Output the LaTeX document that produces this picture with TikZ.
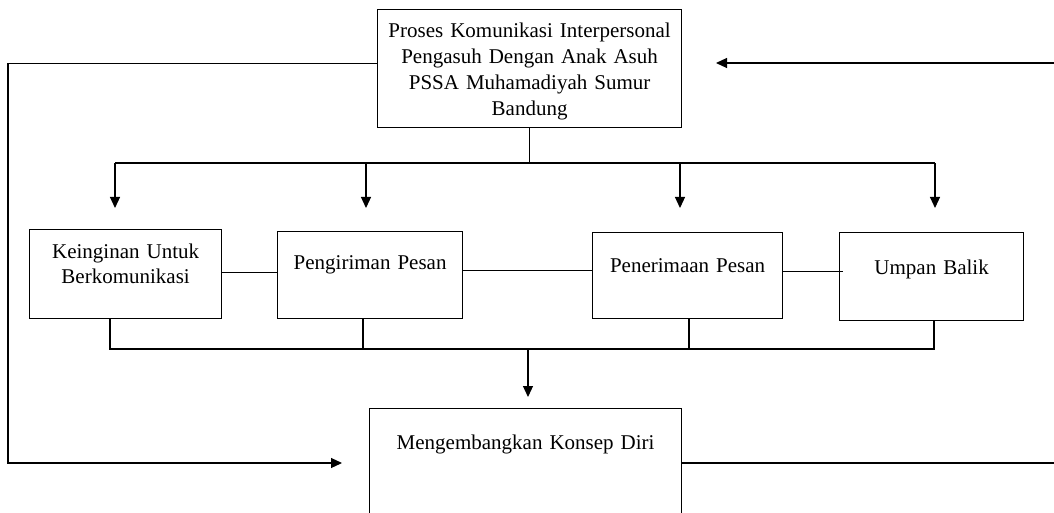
\documentclass[tikz,border=0pt]{standalone}
\usepackage{fontspec}
\setmainfont{Liberation Serif}
\usetikzlibrary{arrows.meta,calc}
\begin{document}
\begin{tikzpicture}[x=1pt,y=-1pt,
  box/.style={draw, line width=1.2pt, inner xsep=0pt, inner ysep=0pt, align=center, anchor=north west, font=\fontsize{21}{25.5}\selectfont},
  ln/.style={line width=1.2pt},
  arr/.style={line width=1.2pt, -{Triangle[length=11pt,width=10pt]}}]
\useasboundingbox (0,0) rectangle (1054,513);
\clip (0,0) rectangle (1054,513);
% boxes
\node[box, text width=304pt, text height=28pt, text depth=90pt, font=\fontsize{21}{26}\selectfont] (top) at (377,9) {Proses Komunikasi Interpersonal\\Pengasuh Dengan Anak Asuh\\PSSA Muhamadiyah Sumur\\Bandung};
\node[box, text width=192pt, text height=29pt, text depth=60pt, font=\fontsize{21}{25}\selectfont] (k) at (29,229) {Keinginan Untuk\\Berkomunikasi};
\node[box, text width=185pt, text height=38pt, text depth=49pt] (p) at (277,231) {Pengiriman Pesan};
\node[box, text width=190pt, text height=40pt, text depth=46pt] (r) at (592,232) {Penerimaan Pesan};
\node[box, text width=184pt, text height=42pt, text depth=46pt] (u) at (839,232) {Umpan Balik};
\node[box, text width=312pt, text height=41pt, text depth=120pt] (m) at (369,408) {Mengembangkan Konsep Diri};
% distribution from top
\coordinate (hl) at (115,163);
\coordinate (hr) at (935,163);
\draw[ln] (top.south) -- (top.south |- hl);
\draw[ln] (hl) -- (hr);
\coordinate (a1) at (115,208);
\coordinate (a2) at (366,208);
\coordinate (a3) at (680,208);
\coordinate (a4) at (935,208);
\foreach \a in {a1,a2,a3,a4} \draw[arr] (\a |- hl) -- (\a);
% links between boxes
\coordinate (c1) at ([yshift=1.5pt]k.east);
\coordinate (c2) at ([yshift=4.5pt]p.east);
\coordinate (c3) at ([yshift=4pt]r.east);
\draw[ln] (c1) -- (c1 -| p.west);
\draw[ln] (c2) -- (c2 -| r.west);
\draw[ln] (c3) -- ([xshift=4pt]c3 -| u.west);
% collector
\coordinate (b1) at (110,349);
\coordinate (b2) at (363,349);
\coordinate (b3) at (689,349);
\coordinate (b4) at (934,349);
\draw[ln] (b1 |- k.south) -- (b1) -- (b4) -- (b4 |- u.south);
\draw[ln] (b2 |- p.south) -- (b2);
\draw[ln] (b3 |- r.south) -- (b3);
\coordinate (mtip) at (528,397);
\draw[arr] (mtip |- b1) -- (mtip);
% feedback loops
\coordinate (l1) at ([yshift=5pt]top.west);
\coordinate (lx) at (8,0);
\coordinate (ltip) at (342,463);
\draw[arr] (l1) -- (l1 -| lx) |- (ltip);
\coordinate (rx) at (1062,0);
\coordinate (rtip) at (716,63);
\draw[arr] (m.east |- ltip) -- (rx |- ltip) |- (rtip);
\end{tikzpicture}
\end{document}
